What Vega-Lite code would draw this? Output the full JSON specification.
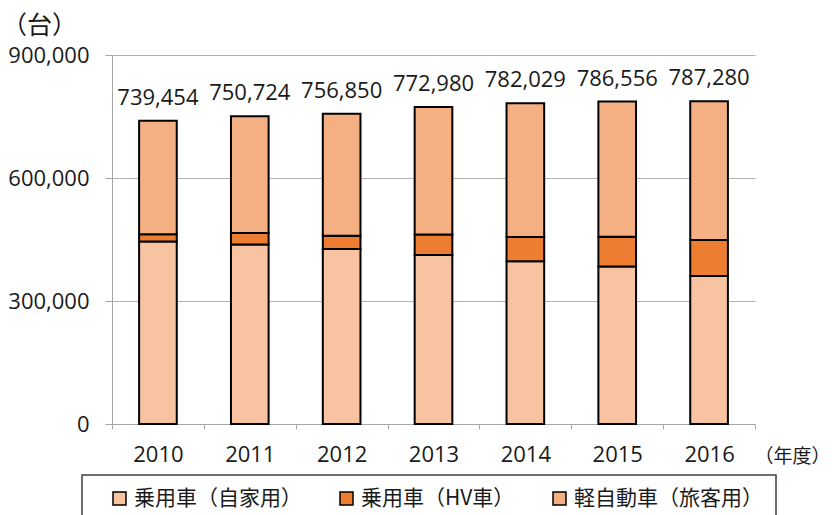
{
  "$schema": "https://vega.github.io/schema/vega-lite/v6.json",
  "width": 643,
  "height": 369,
  "autosize": "none",
  "padding": {"left": 112, "top": 55, "right": 77, "bottom": 91},
  "background": "white",
  "config": {
    "view": {"stroke": null},
    "font": "Open Sans",
    "axis": {
      "labelColor": "#1a1a1a",
      "titleColor": "#1a1a1a",
      "domainColor": "#a6a6a6",
      "tickColor": "#a6a6a6",
      "gridColor": "#b3b3b3",
      "labelFont": "Open Sans",
      "labelFontSize": 22
    },
    "legend": {"strokeWidth": 1.5}
  },
  "datasets": {
    "segments": [
      {"year": "2010", "type": "乗用車（自家用）", "ord": 1, "value": 445000},
      {"year": "2010", "type": "乗用車（HV車）", "ord": 2, "value": 18000},
      {"year": "2010", "type": "軽自動車（旅客用）", "ord": 3, "value": 276454},
      {"year": "2011", "type": "乗用車（自家用）", "ord": 1, "value": 438000},
      {"year": "2011", "type": "乗用車（HV車）", "ord": 2, "value": 28000},
      {"year": "2011", "type": "軽自動車（旅客用）", "ord": 3, "value": 284724},
      {"year": "2012", "type": "乗用車（自家用）", "ord": 1, "value": 427000},
      {"year": "2012", "type": "乗用車（HV車）", "ord": 2, "value": 32000},
      {"year": "2012", "type": "軽自動車（旅客用）", "ord": 3, "value": 297850},
      {"year": "2013", "type": "乗用車（自家用）", "ord": 1, "value": 412000},
      {"year": "2013", "type": "乗用車（HV車）", "ord": 2, "value": 50000},
      {"year": "2013", "type": "軽自動車（旅客用）", "ord": 3, "value": 310980},
      {"year": "2014", "type": "乗用車（自家用）", "ord": 1, "value": 397000},
      {"year": "2014", "type": "乗用車（HV車）", "ord": 2, "value": 59000},
      {"year": "2014", "type": "軽自動車（旅客用）", "ord": 3, "value": 326029},
      {"year": "2015", "type": "乗用車（自家用）", "ord": 1, "value": 384000},
      {"year": "2015", "type": "乗用車（HV車）", "ord": 2, "value": 73000},
      {"year": "2015", "type": "軽自動車（旅客用）", "ord": 3, "value": 329556},
      {"year": "2016", "type": "乗用車（自家用）", "ord": 1, "value": 361000},
      {"year": "2016", "type": "乗用車（HV車）", "ord": 2, "value": 88000},
      {"year": "2016", "type": "軽自動車（旅客用）", "ord": 3, "value": 338280}
    ],
    "totals": [
      {"year": "2010", "total": 739454},
      {"year": "2011", "total": 750724},
      {"year": "2012", "total": 756850},
      {"year": "2013", "total": 772980},
      {"year": "2014", "total": 782029},
      {"year": "2015", "total": 786556},
      {"year": "2016", "total": 787280}
    ]
  },
  "layer": [
    {
      "data": {"name": "segments"},
      "mark": {"type": "bar", "width": {"band": 0.41}, "stroke": "#000000", "strokeWidth": 2},
      "encoding": {
        "x": {
          "field": "year",
          "type": "nominal",
          "scale": {"paddingInner": 0, "paddingOuter": 0},
          "axis": {
            "title": "（年度）",
            "titleFont": "Noto Sans CJK JP",
            "titleFontSize": 19,
            "titleFontWeight": "normal",
            "titleAlign": "left",
            "titleBaseline": "middle",
            "titleX": 642,
            "titleY": 32,
            "labelAngle": 0,
            "tickBand": "extent",
            "tickSize": 5,
            "labelPadding": 15,
            "grid": false
          }
        },
        "y": {
          "field": "value",
          "type": "quantitative",
          "stack": "zero",
          "scale": {"domain": [0, 900000], "nice": false},
          "axis": {
            "title": "（台）",
            "titleFont": "Noto Sans CJK JP",
            "titleFontSize": 25,
            "titleFontWeight": "normal",
            "titleAngle": 0,
            "titleAlign": "center",
            "titleBaseline": "middle",
            "titleX": -73,
            "titleY": -30,
            "values": [0, 300000, 600000, 900000],
            "format": ",.0f",
            "tickSize": 7,
            "labelPadding": 16,
            "grid": true
          }
        },
        "color": {
          "field": "type",
          "type": "nominal",
          "sort": ["乗用車（自家用）", "乗用車（HV車）", "軽自動車（旅客用）"],
          "scale": {
            "domain": ["乗用車（自家用）", "乗用車（HV車）", "軽自動車（旅客用）"],
            "range": ["#F7C3A0", "#ED7D31", "#F4B083"]
          },
          "legend": {
            "title": null,
            "orient": "none",
            "direction": "horizontal",
            "columns": 3,
            "gridAlign": "none",
            "legendX": -30,
            "legendY": 420,
            "padding": 13,
            "strokeColor": "#404040",
            "fillColor": "white",
            "symbolType": "square",
            "symbolSize": 169,
            "symbolStrokeColor": "#000000",
            "symbolStrokeWidth": 1.5,
            "symbolOpacity": 1,
            "symbolOffset": 14,
            "labelFont": "Noto Sans CJK JP",
            "labelFontSize": 21,
            "labelColor": "#1a1a1a",
            "labelOffset": 4,
            "labelLimit": 400,
            "columnPadding": 20
          }
        },
        "order": {"field": "ord", "type": "quantitative"}
      }
    },
    {
      "data": {"name": "totals"},
      "mark": {"type": "text", "baseline": "alphabetic", "dy": -16, "fontSize": 22, "font": "Open Sans", "color": "#1a1a1a"},
      "encoding": {
        "x": {"field": "year", "type": "nominal"},
        "y": {
          "field": "total",
          "type": "quantitative",
          "axis": {
            "title": "（台）",
            "values": [0, 300000, 600000, 900000],
            "format": ",.0f"
          }
        },
        "text": {"field": "total", "type": "quantitative", "format": ","}
      }
    }
  ]
}
